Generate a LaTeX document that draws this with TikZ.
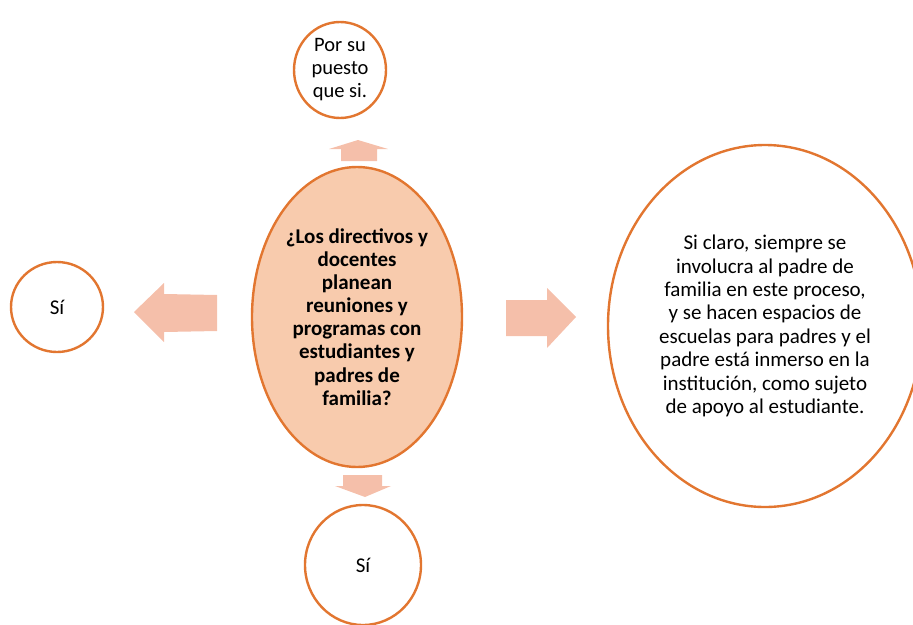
\documentclass[tikz,border=0pt]{standalone}
\usepackage{fontspec}
\setmainfont{Carlito}
\usetikzlibrary{shapes.geometric}
\definecolor{orng}{RGB}{226,118,48}
\definecolor{peach}{RGB}{248,203,173}
\definecolor{arw}{RGB}{245,191,170}
\begin{document}
\begin{tikzpicture}[x=1pt,y=-1pt,
  bub/.style={ellipse,draw=orng,line width=2.4pt,fill=white,inner sep=0pt,align=center,font=\fontsize{21}{23.4}\selectfont},
  blockarrow/.style={fill=arw,draw=none}]
\useasboundingbox (0,0) rectangle (913,624);
\clip (0,0) rectangle (913,624);
\node[bub,minimum width=92pt,minimum height=96pt,font=\fontsize{20.5}{23}\selectfont] (top) at (340,70) {Por su\\puesto\\que si.};
\node[bub,fill=peach,minimum width=210pt,minimum height=300pt,font=\fontsize{21}{23.1}\selectfont\bfseries] (main) at (357,317)
  {¿Los directivos y\\docentes\\planean\\reuniones y\\programas con\\estudiantes y\\padres de\\familia?};
\node[bub,minimum width=314pt,minimum height=362pt] (right) at (765,326)
  {Si claro, siempre se\\involucra al padre de\\familia en este proceso,\\y se hacen espacios de\\escuelas para padres y el\\padre está inmerso en la\\institución, como sujeto\\de apoyo al estudiante.};
\node[bub,minimum width=92pt,minimum height=90pt] (left) at (57,307) {Sí};
\node[bub,minimum width=116pt,minimum height=120pt] (bottom) at (363,565) {Sí};
% block arrows
\fill[blockarrow] (358,140) -- (388,149) -- (377,149) -- (377,161) -- (341,161) -- (341,149) -- (329,149) -- cycle;
\fill[blockarrow] (134,312) -- (164,283) -- (164,294) -- (217,295) -- (217,331) -- (164,332) -- (164,342) -- cycle;
\fill[blockarrow] (576,317) -- (547,288) -- (547,300) -- (506,300) -- (506,336) -- (547,336) -- (547,348) -- cycle;
\fill[blockarrow] (365,497) -- (391,486) -- (382,486) -- (382,475) -- (343,475) -- (343,486) -- (335,486) -- cycle;
\end{tikzpicture}
\end{document}
